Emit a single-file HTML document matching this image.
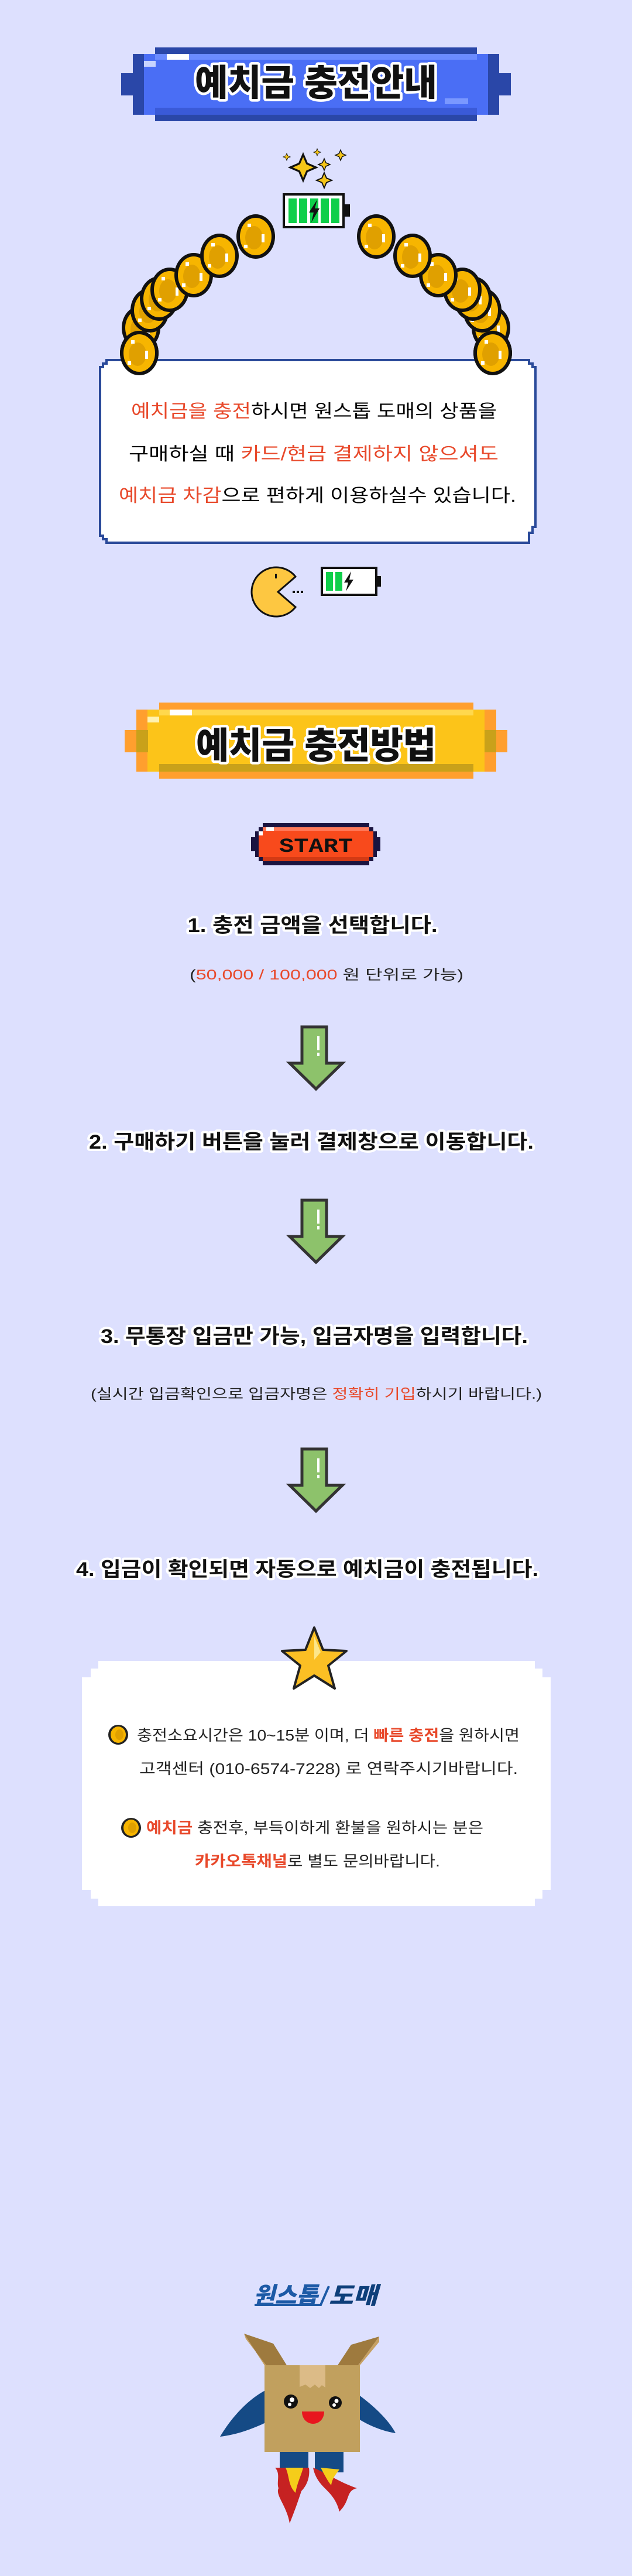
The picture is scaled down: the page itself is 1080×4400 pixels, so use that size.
<!DOCTYPE html>
<html><head><meta charset="utf-8"><style>
html,body{margin:0;padding:0;background:#dde0fe;}
svg{display:block;}
text{font-family:"Liberation Sans","Noto Sans CJK KR",sans-serif;}
.st{font-weight:700;fill:#111;stroke:#fff;stroke-width:8;paint-order:stroke;stroke-linejoin:round;}
.tt{font-weight:900;fill:#111;stroke:#fff;stroke-width:9;paint-order:stroke;stroke-linejoin:round;}
.r{fill:#e8492b;}
</style></head><body>
<svg width="1080" height="4400" viewBox="0 0 1080 4400" xmlns="http://www.w3.org/2000/svg">
<rect width="1080" height="4400" fill="#dde0fe"/>
<defs>
<g id="coin">
 <ellipse cx="0" cy="0" rx="33" ry="38" fill="#111"/>
 <ellipse cx="0" cy="0" rx="27" ry="32" fill="#f7b500"/>
 <ellipse cx="-3" cy="2" rx="15" ry="20" fill="#e0a000"/>
 <rect x="-14" y="-22" width="6" height="6" fill="#fff"/>
 <rect x="10" y="-4" width="5" height="14" fill="#fff"/>
 <rect x="-20" y="14" width="6" height="6" fill="#fff"/>
</g>
<g id="spark">
 <polygon points="0,-10 3,-3 10,0 3,3 0,10 -3,3 -10,0 -3,-3" fill="#f5c518" stroke="#111" stroke-width="1.5"/>
</g>
<g id="arrow">
 <polygon points="-24,0 18,0 18,62 45,62 0,106 -45,62 -24,62" fill="#8dc26b" stroke="#333" stroke-width="5" transform="translate(3,0)"/>
 <rect x="5" y="16" width="4" height="24" fill="#fff"/>
 <rect x="5" y="44" width="4" height="6" fill="#fff"/>
</g>
<g id="scoin">
 <ellipse cx="0" cy="0" rx="17" ry="17" fill="#222"/>
 <ellipse cx="0" cy="0" rx="13" ry="14" fill="#f7b500"/>
 <ellipse cx="2" cy="0" rx="7" ry="9" fill="#e0a000"/>
</g>
</defs>

<!-- Blue banner -->
<rect x="265" y="81" width="550" height="126" fill="#2a47a8"/>
<rect x="227" y="92" width="626" height="104" fill="#2a47a8"/>
<rect x="207" y="125" width="666" height="38" fill="#2a47a8"/>
<rect x="246" y="92" width="588" height="104" fill="#4a6ef5"/>
<rect x="265" y="92" width="550" height="10" fill="#6b8bff"/>
<rect x="265" y="184" width="550" height="12" fill="#3a5ad8"/>
<rect x="285" y="92" width="38" height="10" fill="#fff"/>
<rect x="246" y="104" width="20" height="10" fill="#c8d4ff"/>
<rect x="760" y="168" width="40" height="10" fill="#7a98ff"/>
<text x="540" y="163" text-anchor="middle" font-size="62" class="tt" textLength="414" lengthAdjust="spacingAndGlyphs">예치금 충전안내</text>

<!-- sparkles -->
<g transform="translate(518,286) scale(2.2)"><use href="#spark"/></g>
<g transform="translate(490,268) scale(0.6)"><use href="#spark"/></g>
<g transform="translate(542,260) scale(0.6)"><use href="#spark"/></g>
<g transform="translate(582,265) scale(0.9)"><use href="#spark"/></g>
<g transform="translate(554,281) scale(1.0)"><use href="#spark"/></g>
<g transform="translate(554,308) scale(1.3)"><use href="#spark"/></g>

<!-- battery -->
<rect x="485" y="332" width="102" height="56" fill="#fff" stroke="#111" stroke-width="4"/>
<rect x="588" y="349" width="10" height="21" fill="#111"/>
<rect x="493" y="339" width="14" height="42" fill="#0fcf4a"/>
<rect x="511" y="339" width="14" height="42" fill="#0fcf4a"/>
<rect x="530" y="339" width="14" height="42" fill="#0fcf4a"/>
<rect x="548" y="339" width="14" height="42" fill="#0fcf4a"/>
<rect x="566" y="339" width="14" height="42" fill="#0fcf4a"/>
<polygon points="542,341 528,363 536,363 532,380 546,356 538,356" fill="#111"/>

<!-- coins left -->
<use href="#coin" x="238" y="603"/>
<use href="#coin" x="241" y="560"/>
<use href="#coin" x="256" y="530"/>
<use href="#coin" x="272" y="510"/>
<use href="#coin" x="290" y="495"/>
<use href="#coin" x="331" y="470"/>
<use href="#coin" x="375" y="437"/>
<use href="#coin" x="437" y="404"/>
<!-- coins right -->
<use href="#coin" x="842" y="603"/>
<use href="#coin" x="839" y="560"/>
<use href="#coin" x="824" y="530"/>
<use href="#coin" x="808" y="510"/>
<use href="#coin" x="790" y="495"/>
<use href="#coin" x="749" y="470"/>
<use href="#coin" x="705" y="437"/>
<use href="#coin" x="643" y="404"/>

<!-- white box 1 -->
<path d="M182,615 H904 V621 H910 V627 H915 V900 H910 V910 H904 V927 H182 V921 H176 V915 H171 V627 H176 V621 H182 Z" fill="#fff" stroke="#2a4a9a" stroke-width="4"/>
<use href="#coin" x="238" y="603"/>
<use href="#coin" x="842" y="603"/>
<text x="224" y="713" font-size="31" textLength="625" lengthAdjust="spacingAndGlyphs"><tspan class="r">예치금을 충전</tspan>하시면 원스톱 도매의 상품을</text>
<text x="220" y="786" font-size="31" textLength="632" lengthAdjust="spacingAndGlyphs">구매하실 때 <tspan class="r">카드/현금 결제하지 않으셔도</tspan></text>
<text x="203" y="857" font-size="31" textLength="679" lengthAdjust="spacingAndGlyphs"><tspan class="r">예치금 차감</tspan>으로 편하게 이용하실수 있습니다.</text>

<!-- pacman -->
<path d="M505,985 A42,42 0 1,0 505,1037 L475,1011 Z" fill="#fdc741" stroke="#111" stroke-width="3"/>
<rect x="470" y="980" width="3" height="8" fill="#111"/>
<rect x="500" y="1009" width="4" height="4" fill="#111"/>
<rect x="507" y="1009" width="4" height="4" fill="#111"/>
<rect x="514" y="1009" width="4" height="4" fill="#111"/>
<rect x="550" y="970" width="93" height="46" fill="#fff" stroke="#111" stroke-width="4"/>
<rect x="643" y="984" width="8" height="18" fill="#111"/>
<rect x="557" y="977" width="12" height="32" fill="#0fcf4a"/>
<rect x="573" y="977" width="12" height="32" fill="#0fcf4a"/>
<polygon points="600,976 588,995 595,995 591,1010 604,990 597,990" fill="#111"/>

<!-- Orange banner -->
<rect x="272" y="1200" width="537" height="130" fill="#ff9f2e"/>
<rect x="233" y="1212" width="615" height="106" fill="#ff9f2e"/>
<rect x="213" y="1247" width="654" height="38" fill="#ff9f2e"/>
<rect x="252" y="1212" width="576" height="106" fill="#fcc419"/>
<rect x="272" y="1212" width="537" height="10" fill="#ffd84d"/>
<rect x="272" y="1305" width="537" height="13" fill="#c9a11a"/>
<rect x="233" y="1247" width="20" height="38" fill="#c9a11a"/>
<rect x="828" y="1247" width="20" height="38" fill="#c9a11a"/>
<rect x="290" y="1212" width="38" height="10" fill="#fff"/>
<rect x="252" y="1224" width="20" height="10" fill="#fff2b0"/>
<text x="540" y="1295" text-anchor="middle" font-size="62" class="tt" textLength="410" lengthAdjust="spacingAndGlyphs">예치금 충전방법</text>

<!-- START -->
<path d="M449,1406 H631 V1413 H638 V1420 H644 V1430 H650 V1454 H644 V1464 H638 V1471 H631 V1478 H449 V1471 H442 V1464 H436 V1454 H429 V1430 H436 V1420 H442 V1413 H449 Z" fill="#1a1440"/>
<path d="M449,1413 H631 V1420 H638 V1464 H631 V1471 H449 V1464 H442 V1420 H449 Z" fill="#f84a1c"/>
<rect x="449" y="1413" width="182" height="6" fill="#ff7a5a"/>
<rect x="449" y="1464" width="182" height="7" fill="#d33a14"/>
<rect x="455" y="1413" width="13" height="6" fill="#fff"/>
<rect x="442" y="1420" width="7" height="7" fill="#fff"/>
<text x="540" y="1455" text-anchor="middle" style="font-family:'Liberation Mono',monospace;font-weight:700;font-size:34px;fill:#111" textLength="126" lengthAdjust="spacingAndGlyphs">START</text>

<!-- steps -->
<text x="534" y="1592" text-anchor="middle" font-size="34" class="st" textLength="427" lengthAdjust="spacingAndGlyphs">1. 충전 금액을 선택합니다.</text>
<text x="324" y="1673" font-size="24" fill="#222" textLength="468" lengthAdjust="spacingAndGlyphs">(<tspan class="r">50,000 / 100,000</tspan> 원 단위로 가능)</text>
<use href="#arrow" x="537" y="1754"/>
<text x="532" y="1962" text-anchor="middle" font-size="34" class="st" textLength="760" lengthAdjust="spacingAndGlyphs">2. 구매하기 버튼을 눌러 결제창으로 이동합니다.</text>
<use href="#arrow" x="537" y="2050"/>
<text x="537" y="2294" text-anchor="middle" font-size="34" class="st" textLength="730" lengthAdjust="spacingAndGlyphs">3. 무통장 입금만 가능, 입금자명을 입력합니다.</text>
<text x="155" y="2389" font-size="24" fill="#222" textLength="771" lengthAdjust="spacingAndGlyphs">(실시간 입금확인으로 입금자명은 <tspan class="r">정확히 기입</tspan>하시기 바랍니다.)</text>
<use href="#arrow" x="537" y="2475"/>
<text x="525" y="2692" text-anchor="middle" font-size="34" class="st" textLength="790" lengthAdjust="spacingAndGlyphs">4. 입금이 확인되면 자동으로 예치금이 충전됩니다.</text>

<!-- white box 2 -->
<rect x="168" y="2837" width="746" height="419" fill="#fff"/>
<rect x="155" y="2850" width="772" height="393" fill="#fff"/>
<rect x="140" y="2865" width="801" height="363" fill="#fff"/>
<!-- star -->
<polygon points="537,2780 552,2818 592,2820 561,2845 572,2884 537,2862 502,2884 513,2845 482,2820 522,2818" fill="#fbbf24" stroke="#222" stroke-width="4" stroke-linejoin="round"/>
<polygon points="537,2795 548,2822 537,2835" fill="#fde68a"/>
<use href="#scoin" x="202" y="2963"/>
<text x="234" y="2973" font-size="26" fill="#222" textLength="654" lengthAdjust="spacingAndGlyphs">충전소요시간은 10~15분 이며, 더 <tspan class="r" font-weight="700">빠른 충전</tspan>을 원하시면</text>
<text x="238" y="3030" font-size="26" fill="#222" textLength="647" lengthAdjust="spacingAndGlyphs">고객센터 (010-6574-7228) 로 연락주시기바랍니다.</text>
<use href="#scoin" x="224" y="3122"/>
<text x="250" y="3131" font-size="26" fill="#222" textLength="576" lengthAdjust="spacingAndGlyphs"><tspan class="r" font-weight="700">예치금</tspan> 충전후, 부득이하게 환불을 원하시는 분은</text>
<text x="333" y="3188" font-size="26" fill="#222" textLength="419" lengthAdjust="spacingAndGlyphs"><tspan class="r" font-weight="700">카카오톡채널</tspan>로 별도 문의바랍니다.</text>

<!-- logo -->
<text x="433" y="3935" font-size="40" font-weight="900" font-style="italic" fill="#1d5aa6" textLength="110" lengthAdjust="spacingAndGlyphs">원스톱</text>
<text x="562" y="3935" font-size="40" font-weight="900" font-style="italic" fill="#0e3f7a" textLength="83" lengthAdjust="spacingAndGlyphs">도매</text>
<path d="M435,3937 H548 L562,3905" stroke="#1d5aa6" stroke-width="4" fill="none"/>

<!-- character -->
<path d="M455,4082 C420,4100 392,4135 376,4162 C410,4158 440,4145 460,4135 Z" fill="#154a85"/>
<path d="M612,4090 C640,4110 665,4135 676,4156 C650,4152 625,4140 610,4130 Z" fill="#154a85"/>
<rect x="478" y="4185" width="49" height="38" fill="#154a85"/>
<rect x="538" y="4185" width="49" height="38" fill="#154a85"/>
<path d="M470,4215 C480,4225 472,4240 476,4250 C470,4262 490,4280 495,4310 C505,4285 510,4270 515,4255 C525,4245 530,4230 528,4215 Z" fill="#c62222"/>
<path d="M535,4215 C560,4225 580,4240 610,4250 C590,4255 600,4270 580,4290 C575,4270 565,4260 555,4250 C545,4240 538,4230 535,4215 Z" fill="#c62222"/>
<path d="M488,4215 C495,4230 492,4245 505,4258 C508,4240 515,4228 518,4215 Z" fill="#f5cd1a"/>
<path d="M548,4215 C555,4228 560,4238 566,4245 C568,4232 575,4225 580,4218 Z" fill="#f5cd1a"/>
<polygon points="417,3986 467,4003 490,4040 452,4040" fill="#9e7a3e"/>
<polygon points="417,3986 420,3995 455,4040 452,4040" fill="#c6a062"/>
<polygon points="648,3991 600,4005 577,4040 612,4040" fill="#9e7a3e"/>
<polygon points="648,3991 648,4000 615,4040 612,4040" fill="#c6a062"/>
<rect x="452" y="4040" width="163" height="148" fill="#c1a05e"/>
<path d="M512,4040 H556 V4078 L550,4074 L545,4079 L538,4073 L530,4079 L522,4073 L512,4077 Z" fill="#dcbb87"/>
<circle cx="497" cy="4102" r="12" fill="#111"/>
<circle cx="573" cy="4104" r="11" fill="#111"/>
<circle cx="499" cy="4099" r="4" fill="#fff"/><circle cx="495" cy="4107" r="3" fill="#fff"/>
<circle cx="575" cy="4101" r="3.5" fill="#fff"/><circle cx="571" cy="4108" r="3" fill="#fff"/>
<path d="M516,4119 H554 C554,4132 545,4140 535,4140 C525,4140 516,4132 516,4119 Z" fill="#e8161e"/>
</svg>
</body></html>
